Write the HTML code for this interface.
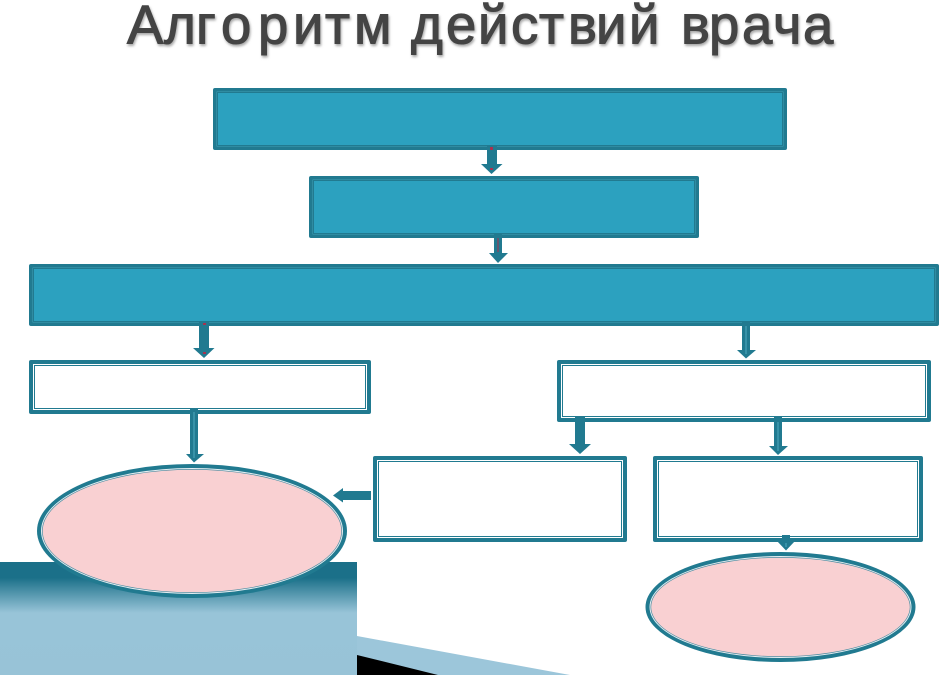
<!DOCTYPE html>
<html lang="ru">
<head>
<meta charset="utf-8">
<title>Алгоритм действий врача</title>
<style>
html,body{margin:0;padding:0;background:#fff;width:940px;height:675px;overflow:hidden}
svg{display:block}
</style>
</head>
<body>
<svg width="940" height="675" viewBox="0 0 940 675" xmlns="http://www.w3.org/2000/svg">
<defs>
<linearGradient id="g" x1="0" y1="562" x2="0" y2="675" gradientUnits="userSpaceOnUse">
<stop offset="0" stop-color="#1b7089"/>
<stop offset="0.14" stop-color="#1b7089"/>
<stop offset="0.45" stop-color="#98c4d8"/>
<stop offset="1" stop-color="#98c3d7"/>
</linearGradient>
<filter id="b" x="-5%" y="-20%" width="110%" height="140%"><feGaussianBlur stdDeviation="1.2"/></filter>
</defs>

<g font-family="'Liberation Sans',sans-serif" font-size="54.500">
<g fill="#a8a8a8" stroke="#a8a8a8" stroke-width="1.100" filter="url(#b)" transform="translate(1,2)">
<text y="43.500" x="127 164 196 221 258 293 325 354">Алгоритм</text>
<text y="43.500" x="411 446 478 511 539 568 596 629">действий</text>
<text y="43.500" x="681 709 742 773 803">врача</text>
</g>
<g fill="#444" stroke="#444" stroke-width="1.100">
<text y="43.500" x="127 164 196 221 258 293 325 354">Алгоритм</text>
<text y="43.500" x="411 446 478 511 539 568 596 629">действий</text>
<text y="43.500" x="681 709 742 773 803">врача</text>
</g>
</g>

<rect x="0" y="562" width="357" height="113" fill="url(#g)"/>
<polygon points="357,636 570,675 357,675" fill="#9cc6da"/>
<polygon points="357,655 438,675 357,675" fill="#000"/>

<g fill="#217a90">
<rect x="213" y="88" width="574" height="62" rx="2"/>
<rect x="309" y="176" width="390" height="62" rx="2"/>
<rect x="29" y="264" width="910" height="62" rx="2"/>
<rect x="29" y="360" width="342" height="54" rx="2"/>
<rect x="557" y="360" width="374" height="62" rx="2"/>
<rect x="373" y="456" width="254" height="86" rx="2"/>
<rect x="653" y="456" width="270" height="86" rx="2"/>
</g>
<g fill="#3f9db5">
<rect x="216.500" y="91.500" width="567" height="55"/>
<rect x="312.500" y="179.500" width="383" height="55"/>
<rect x="32.500" y="267.500" width="903" height="55"/>
</g>
<g fill="#217a90">
<rect x="217" y="92" width="566" height="54"/>
<rect x="313" y="180" width="382" height="54"/>
<rect x="33" y="268" width="902" height="54"/>
</g>
<g fill="#2ca1bf">
<rect x="218" y="93" width="564" height="52"/>
<rect x="314" y="181" width="380" height="52"/>
<rect x="34" y="269" width="900" height="52"/>
</g>
<g fill="#fff">
<rect x="33" y="364" width="334" height="46"/>
<rect x="561" y="364" width="366" height="54"/>
<rect x="377" y="460" width="246" height="78"/>
<rect x="657" y="460" width="262" height="78"/>
</g>
<g fill="#217a90">
<rect x="34" y="365" width="332" height="44"/>
<rect x="562" y="365" width="364" height="52"/>
<rect x="378" y="461" width="244" height="76"/>
<rect x="658" y="461" width="260" height="76"/>
</g>
<g fill="#fff">
<rect x="35" y="366" width="330" height="42"/>
<rect x="563" y="366" width="362" height="50"/>
<rect x="379" y="462" width="242" height="74"/>
<rect x="659" y="462" width="258" height="74"/>
</g>

<g fill="#217a90">
<ellipse cx="192" cy="531" rx="155" ry="67"/>
<ellipse cx="780.500" cy="607" rx="135" ry="55"/>
</g>
<g fill="#e4eef2">
<ellipse cx="192" cy="531" rx="151" ry="63"/>
<ellipse cx="780.500" cy="607" rx="131" ry="51"/>
</g>
<g fill="#4f8ca0">
<ellipse cx="192" cy="531" rx="150" ry="62"/>
<ellipse cx="780.500" cy="607" rx="130" ry="50"/>
</g>
<g fill="#f9d0d2">
<ellipse cx="192" cy="531" rx="149.300" ry="61.300"/>
<ellipse cx="780.500" cy="607" rx="129.300" ry="49.300"/>
</g>

<g fill="#217a90">
<polygon points="487,145 497,145 497,164 502.500,164 491.500,174 481,164 487,164"/>
<polygon points="494,233 502,233 502,253 508,253 498,263 489,253 494,253"/>
<polygon points="199,321 209,321 209,348 214.500,348 204,358 193,348 199,348"/>
<polygon points="190,408 198,408 198,454 204,454 194,462.500 186,454 190,454"/>
<polygon points="742,321 750,321 750,350 756,350 746,358.500 737,350 742,350"/>
<polygon points="575,417 585,417 585,444 591,444 580,454 569,444 575,444"/>
<polygon points="774,417 782,417 782,446 788,446 778,455 769,446 774,446"/>
<polygon points="371,491 371,500 343,500 343,502.500 333,495.500 343,488 343,491"/>
<polygon points="782,535 790,535 790,541 795,541 786,550.500 777,541 782,541"/>
</g>
<g stroke="#4fa9c0" stroke-width="1" fill="none">
<line x1="194" y1="412" x2="194" y2="458"/>
<line x1="746" y1="326" x2="746" y2="354"/>
<line x1="778" y1="422" x2="778" y2="451"/>
<line x1="786" y1="543" x2="786" y2="547"/>
</g>
<line x1="498" y1="238" x2="498" y2="252" stroke="#a8324f" stroke-width="1"/>
<g fill="#a8324f">
<rect x="490" y="147" width="3" height="3"/>
<rect x="490" y="168" width="3" height="2"/>
<rect x="203" y="323" width="3" height="2"/>
<rect x="203" y="352" width="3" height="2"/>
</g>
</svg>
</body>
</html>
